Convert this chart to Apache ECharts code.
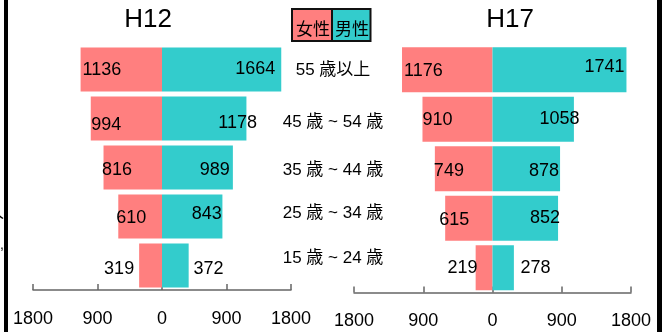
<!DOCTYPE html>
<html><head><meta charset="utf-8">
<script src="https://cdn.jsdelivr.net/npm/echarts@6/dist/echarts.min.js"></script>
<style>html,body{margin:0;padding:0;background:#fff}#c{width:668px;height:332px}</style>
</head><body><div id="c"></div>
<script>
// ---- data ----
const categories = ['55 歳以上', '45 歳 ~ 54 歳', '35 歳 ~ 44 歳', '25 歳 ~ 34 歳', '15 歳 ~ 24 歳'];
const h12Female = [1136, 994, 816, 610, 319];
const h12Male = [1664, 1178, 989, 843, 372];
const h17Female = [1176, 910, 749, 615, 219];
const h17Male = [1741, 1058, 878, 852, 278];
const panelTitles = ['H12', 'H17'];
const legendNames = ['女性', '男性'];
const axisMax = 1800;
const axisStep = 900;

// ---- styling (label placement per bar) ----
const lblH12F = [['insideLeft', 2, 0.5], ['insideLeft', 0.5, 6.5], ['insideLeft', -1.5, 2.5], ['insideLeft', -2, 2], ['left', -5, 3.5]];
const lblH12M = [['insideRight', -6, -0.5], ['insideRight', 10.6, 4.5], ['insideRight', -3, 2.5], ['insideRight', -0.7, -2.5], ['right', 4.8, 3.5]];
const lblH17F = [['insideLeft', 2, 1], ['insideLeft', 0, 0.5], ['insideLeft', -1, 2.5], ['insideLeft', -6, 1.5], ['left', 1.8, 0.5]];
const lblH17M = [['insideRight', -2, -3], ['insideRight', 5.6, 0], ['insideRight', -1, 2.5], ['insideRight', 2, 0], ['right', 6.6, 0.5]];
const catShift = [0, 10, 11, 4, 0];

const FONT = "'Liberation Sans', 'Noto Sans CJK JP', sans-serif";
const PINK = '#FF7F7F', TEAL = '#33CCCC';

function items(vals, sign, lbl) {
  return vals.map((v, i) => ({
    value: sign * v,
    label: { position: lbl[i][0], offset: [lbl[i][1], lbl[i][2]] }
  }));
}
function barSeries(vals, sign, lbl, color, idx, width) {
  return {
    type: 'bar', xAxisIndex: idx, yAxisIndex: idx,
    data: items(vals, sign, lbl), barWidth: width, barGap: '-100%',
    itemStyle: { color: color }, silent: true,
    label: { show: true, distance: 0, color: '#000', fontSize: 18, fontFamily: FONT,
      formatter: p => Math.abs(p.value) }
  };
}
const valAxis = (idx) => ({
  type: 'value', gridIndex: idx, min: -axisMax, max: axisMax, interval: axisStep,
  axisLine: { show: true, lineStyle: { color: '#666', width: 1.5 } },
  axisTick: { show: true, inside: true, length: 6, lineStyle: { color: '#666', width: 1.5 } },
  splitLine: { show: false },
  axisLabel: { color: '#000', fontSize: 18, fontFamily: FONT, margin: 20, formatter: v => Math.abs(v) }
});
const catAxis = (idx) => ({
  type: 'category', gridIndex: idx, data: categories, inverse: true,
  axisLine: { show: false }, axisTick: { show: false }, axisLabel: { show: false }
});

const rich = {};
catShift.forEach((s, i) => { rich['s' + i] = { fontSize: 17, fontFamily: FONT, color: '#000', padding: [s, 0, 0, 0] }; });

const chart = echarts.init(document.getElementById('c'), null, { renderer: 'canvas' });
chart.setOption({
  animation: false,
  backgroundColor: '#fff',
  grid: [
    { left: 33, width: 258, top: 45, height: 245 },
    { left: 354, width: 277, top: 45, height: 247.5 },
    { left: 333, width: 1, top: 47, height: 235 }
  ],
  xAxis: [valAxis(0), valAxis(1), { type: 'value', gridIndex: 2, show: false }],
  yAxis: [catAxis(0), catAxis(1), {
    type: 'category', gridIndex: 2, data: categories, inverse: true,
    axisLine: { show: false }, axisTick: { show: false },
    axisLabel: { show: true, align: 'center', margin: 0, interval: 0,
      formatter: (v, i) => '{s' + i + '|' + v + '}', rich: rich }
  }],
  series: [
    barSeries(h12Female, -1, lblH12F, PINK, 0, 44),
    barSeries(h12Male, 1, lblH12M, TEAL, 0, 44),
    barSeries(h17Female, -1, lblH17F, PINK, 1, 45),
    barSeries(h17Male, 1, lblH17M, TEAL, 1, 45)
  ],
  graphic: [
    { type: 'rect', shape: { x: 4, y: 0, width: 4, height: 332 }, style: { fill: '#000' } },
    { type: 'rect', shape: { x: 657, y: 0, width: 5, height: 332 }, style: { fill: '#000' } },
    { type: 'text', x: -13, y: 212, style: { text: '人', font: "17px 'Noto Sans CJK JP'", fill: '#000', verticalAlign: 'middle' } },
    { type: 'text', x: 0, y: 245, style: { text: ',', font: "14px 'Liberation Sans'", fill: '#000', verticalAlign: 'middle' } },
    { type: 'text', x: 148, y: 20, style: { text: panelTitles[0], font: "26px 'Liberation Sans'", fill: '#000', align: 'center', verticalAlign: 'middle' } },
    { type: 'text', x: 510, y: 20, style: { text: panelTitles[1], font: "26px 'Liberation Sans'", fill: '#000', align: 'center', verticalAlign: 'middle' } },
    { type: 'rect', shape: { x: 292, y: 9, width: 40, height: 32 }, style: { fill: PINK, stroke: '#111', lineWidth: 2 } },
    { type: 'rect', shape: { x: 332, y: 9, width: 38.5, height: 32 }, style: { fill: TEAL, stroke: '#111', lineWidth: 2 } },
    { type: 'text', x: 313, y: 29, style: { text: legendNames[0], font: "17px 'Noto Sans CJK JP'", fill: '#000', align: 'center', verticalAlign: 'middle' } },
    { type: 'text', x: 352, y: 29, style: { text: legendNames[1], font: "17px 'Noto Sans CJK JP'", fill: '#000', align: 'center', verticalAlign: 'middle' } }
  ]
});
</script>
</body></html>
